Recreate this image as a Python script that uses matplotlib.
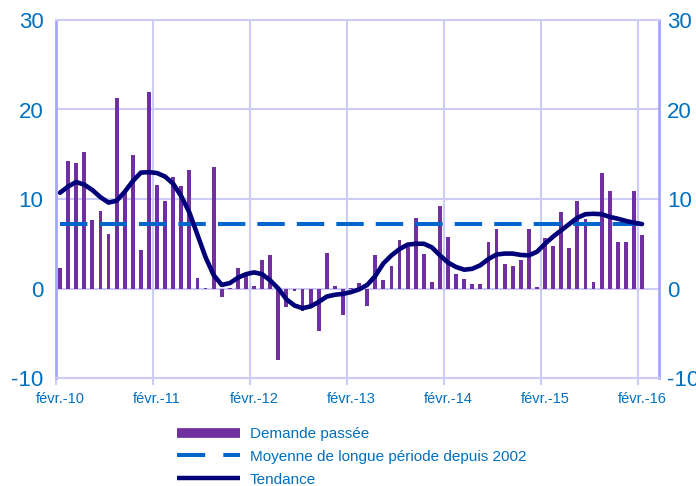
import numpy as np
import matplotlib
matplotlib.use("Agg")
import matplotlib.pyplot as plt
from matplotlib import font_manager
from matplotlib.lines import Line2D

names = {f.name for f in font_manager.fontManager.ttflist}
FAM = "Liberation Sans Narrow" if "Liberation Sans Narrow" in names else "Liberation Sans"
plt.rcParams["font.family"] = [FAM, "DejaVu Sans"]

# ---- data (monthly, Feb-2010 .. Feb-2016) ----
demande = [2.3, 14.3, 14.0, 15.2, 7.6, 8.7, 6.1, 21.3, 11.0, 14.9,
           4.3, 22.0, 11.6, 9.8, 12.5, 11.4, 13.2, 1.2, 0.1, 13.6,
           -1.0, 0.1, 2.3, 1.5, 0.3, 3.2, 3.7, -8.0, -2.1, -0.3,
           -2.5, -1.8, -4.7, 4.0, 0.3, -3.0, 0.1, 0.6, -1.9, 3.7,
           1.0, 2.5, 5.4, 4.6, 7.9, 3.9, 0.7, 9.2, 5.7, 1.6,
           1.1, 0.5, 0.5, 5.2, 6.7, 2.7, 2.5, 3.2, 6.7, 0.2,
           5.6, 4.7, 8.5, 4.5, 9.8, 7.8, 0.7, 12.9, 10.9, 5.2,
           5.2, 10.9, 6.0]
tendance = [10.7, 11.4, 11.9, 11.6, 11.0, 10.2, 9.6, 9.8, 10.8, 12.0,
            12.95, 13.0, 12.9, 12.5, 11.7, 10.3, 8.5, 6.0, 3.5, 1.5,
            0.4, 0.6, 1.2, 1.6, 1.8, 1.6, 0.9, 0.0, -1.2, -1.9,
            -2.2, -2.0, -1.5, -0.9, -0.7, -0.6, -0.4, -0.1, 0.4, 1.4,
            2.8, 3.7, 4.4, 4.9, 5.0, 5.0, 4.6, 3.7, 2.9, 2.4,
            2.1, 2.2, 2.6, 3.3, 3.8, 3.9, 3.9, 3.75, 3.7, 4.1,
            5.0, 5.8, 6.5, 7.2, 7.9, 8.3, 8.35, 8.3, 8.0, 7.8,
            7.55, 7.35, 7.2]
moyenne_val = 7.2
moyenne = [moyenne_val] * len(demande)
year_labels = ["févr.-10", "févr.-11", "févr.-12", "févr.-13",
               "févr.-14", "févr.-15", "févr.-16"]
y_ticks = [-10, 0, 10, 20, 30]
legend_labels = ["Demande passée", "Moyenne de longue période depuis 2002", "Tendance"]

PURPLE = "#7030A0"
DASHBLUE = "#0066CC"
NAVY = "#000078"
TXT = "#0070C0"
GRID = "#CCCCF6"
SPINE = "#A6A6FF"

fig = plt.figure(figsize=(6.96, 4.86), dpi=100)
ax = fig.add_axes([56 / 696, 1 - 378 / 486, (659 - 56) / 696, (378 - 20) / 486])

x = np.arange(len(demande))
ax.bar(x, demande, width=0.47, color=PURPLE, zorder=2)
ax.plot(x, moyenne, color=DASHBLUE, lw=2.9, dashes=(6.8, 3.0), zorder=3,
        solid_capstyle="butt", dash_capstyle="butt")
ax.plot(x, tendance, color=NAVY, lw=3.3, zorder=4, solid_joinstyle="round",
        solid_capstyle="round")

ax.set_xlim(-0.5, 74.1)
ax.set_ylim(-10, 30)
ax.set_yticks(y_ticks)
ax.set_yticklabels([str(v) for v in y_ticks])
ax.tick_params(axis="y", length=0, pad=9, labelsize=16, labelcolor=TXT)

major = [-0.5 + 12 * k for k in range(len(year_labels))]
ax.set_xticks(major)
ax.set_xticklabels([""] * len(major))
ax.set_xticks([12 * k for k in range(len(year_labels))], minor=True)
ax.set_xticklabels(year_labels, minor=True)
ax.tick_params(axis="x", which="major", length=5, color=GRID, width=1.5)
ax.tick_params(axis="x", which="minor", length=0, pad=10, labelsize=10.5,
               labelcolor=TXT)

ax.grid(True, which="major", color=GRID, lw=1.5, zorder=0)
ax.set_axisbelow(True)
for s in ["top", "bottom"]:
    ax.spines[s].set_color(GRID)
    ax.spines[s].set_linewidth(1.5)
for s in ["left", "right"]:
    ax.spines[s].set_color(SPINE)
    ax.spines[s].set_linewidth(2)

ax2 = ax.twinx()
ax2.set_ylim(ax.get_ylim())
ax2.set_yticks(y_ticks)
ax2.set_yticklabels([str(v) for v in y_ticks])
ax2.tick_params(axis="y", length=0, pad=6, labelsize=16, labelcolor=TXT)
for s in ax2.spines.values():
    s.set_visible(False)

handles = [Line2D([0], [0], color=PURPLE, lw=7, solid_capstyle="butt"),
           Line2D([0], [0], color=DASHBLUE, lw=2.9, dashes=(7, 4.5),
                  dash_capstyle="butt"),
           Line2D([0], [0], color=NAVY, lw=3.2, solid_capstyle="butt")]
leg = fig.legend(handles, legend_labels, loc="upper left",
                 bbox_to_anchor=(171 / 696, 1 - 421 / 486), frameon=False,
                 fontsize=11, handlelength=4.1, handletextpad=0.65,
                 labelspacing=0.57, borderaxespad=0)
for t in leg.get_texts():
    t.set_color(TXT)

fig.savefig("out.png", dpi=100)
